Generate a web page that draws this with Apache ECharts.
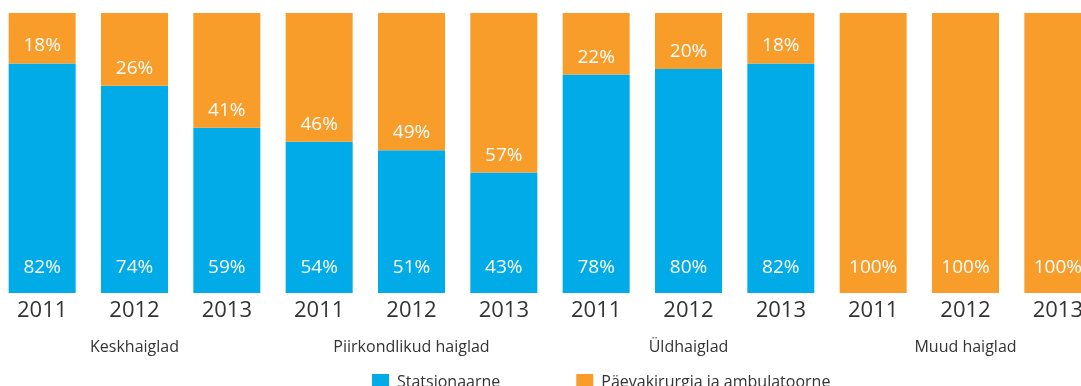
<!DOCTYPE html>
<html>
<head>
<meta charset="utf-8">
<script src="https://cdn.jsdelivr.net/npm/echarts@6/dist/echarts.min.js"></script>
<style>
html,body{margin:0;padding:0;background:#fff;overflow:hidden;width:1081px;height:386px;}
#chart{position:absolute;left:-4px;top:0;width:1108px;height:386px;}
</style>
</head>
<body>
<div id="chart"></div>
<script>
var years = ['2011','2012','2013','2011','2012','2013','2011','2012','2013','2011','2012','2013'];
var groups = ['Keskhaiglad','Piirkondlikud haiglad','Üldhaiglad','Muud haiglad'];
var statsionaarne = [82,74,59,54,51,43,78,80,82,0,0,0];
var paevakirurgia = [18,26,41,46,49,57,22,20,18,100,100,100];
var seriesNames = ['Statsionaarne','Päevakirurgia ja ambulatoorne'];

var BLUE = '#00ABE8', ORANGE = '#F89C2A';
var FONT = 'Open Sans';

var chart = echarts.init(document.getElementById('chart'));

var orangeData = paevakirurgia.map(function(v, i){
  if (statsionaarne[i] === 0) {
    return {value: v, label: {position: 'insideBottom', distance: 16}};
  }
  return v;
});

chart.setOption({
  animation: false,
  textStyle: {fontFamily: FONT},
  grid: {left: 0, right: 0, top: 13, bottom: 93, containLabel: false},
  legend: {
    left: 371, top: 369,
    itemWidth: 17, itemHeight: 17, itemGap: 76,
    icon: 'rect',
    textStyle: {fontSize: 16, color: '#333', fontFamily: FONT, padding: [0,0,0,3]},
    data: seriesNames
  },
  xAxis: [{
    type: 'category', data: years, position: 'bottom',
    axisLine: {show: false}, axisTick: {show: false},
    axisLabel: {fontSize: 22, color: '#333', margin: 7, fontFamily: FONT, interval: 0}
  },{
    type: 'category', data: groups, position: 'bottom',
    axisLine: {show: false}, axisTick: {show: false},
    axisLabel: {fontSize: 16, color: '#333', margin: 46, fontFamily: FONT, interval: 0}
  }],
  yAxis: {type: 'value', min: 0, max: 100, show: false},
  series: [{
    name: seriesNames[0], type: 'bar', stack: 't', barWidth: 67,
    itemStyle: {color: BLUE},
    label: {show: true, position: 'insideBottom', distance: 16, color: '#fff', fontSize: 19, fontFamily: FONT,
      formatter: function(p){ return p.value ? p.value + '%' : ''; }},
    data: statsionaarne
  },{
    name: seriesNames[1], type: 'bar', stack: 't', barWidth: 67,
    itemStyle: {color: ORANGE},
    label: {show: true, position: 'insideBottom', distance: 8, color: '#fff', fontSize: 19, fontFamily: FONT,
      formatter: function(p){ return p.value + '%'; }},
    data: orangeData
  }]
});
</script>
</body>
</html>
